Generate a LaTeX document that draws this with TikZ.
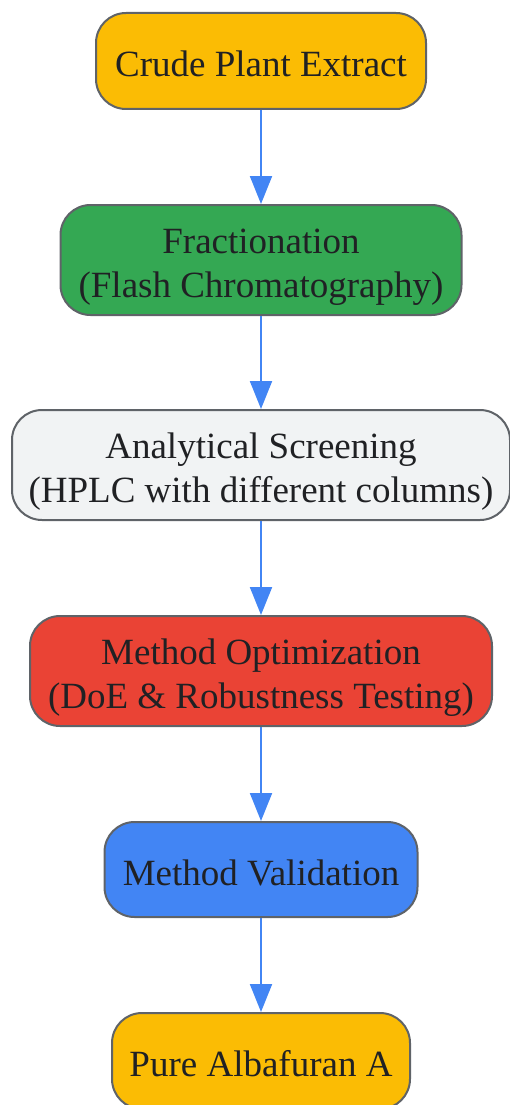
\documentclass[tikz,border=0pt]{standalone}
\usepackage{fontspec}
\setmainfont{Liberation Serif}
\usetikzlibrary{arrows.meta}
\definecolor{gyellow}{HTML}{FBBC04}
\definecolor{ggreen}{HTML}{34A853}
\definecolor{glight}{HTML}{F1F3F4}
\definecolor{gred}{HTML}{EA4335}
\definecolor{gblue}{HTML}{4285F4}
\definecolor{gborder}{HTML}{5F6368}
\definecolor{gtext}{HTML}{202124}
\begin{document}
\begin{tikzpicture}[x=1pt,y=-1pt,
  box/.style={draw=gborder, line width=2pt, rounded corners=30pt, inner sep=0pt,
    align=center, text=gtext, font=\fontsize{37}{44}\selectfont,
    text height=35pt, text depth=4pt, minimum height=96pt},
  boxtwo/.style={box, text height=79pt, minimum height=110pt},
  conn/.style={draw=gblue, line width=2pt, -{Triangle[width=22pt,length=28pt]}}]
\useasboundingbox (0,0) rectangle (510,1105);
\node[box, fill=gyellow, minimum width=330pt] (n1) at (261,61) {Crude Plant Extract};
\node[boxtwo, fill=ggreen, minimum width=401pt] (n2) at (261,260) {Fractionation\\(Flash Chromatography)};
\node[boxtwo, fill=glight, minimum width=498pt] (n3) at (261,465) {Analytical Screening\\(HPLC with different columns)};
\node[boxtwo, fill=gred, minimum width=462pt] (n4) at (261,671) {Method Optimization\\(DoE \& Robustness Testing)};
\node[box, fill=gblue, minimum width=313pt, minimum height=95pt] (n5) at (261,869.5) {Method Validation};
\node[box, fill=gyellow, minimum width=298pt] (n6) at (261,1061) {Pure Albafuran A};
\draw[conn] (n1.south) -- (n2.north);
\draw[conn] (n2.south) -- (n3.north);
\draw[conn] (n3.south) -- (n4.north);
\draw[conn] (n4.south) -- (n5.north);
\draw[conn] (n5.south) -- (n6.north);
\end{tikzpicture}
\end{document}
